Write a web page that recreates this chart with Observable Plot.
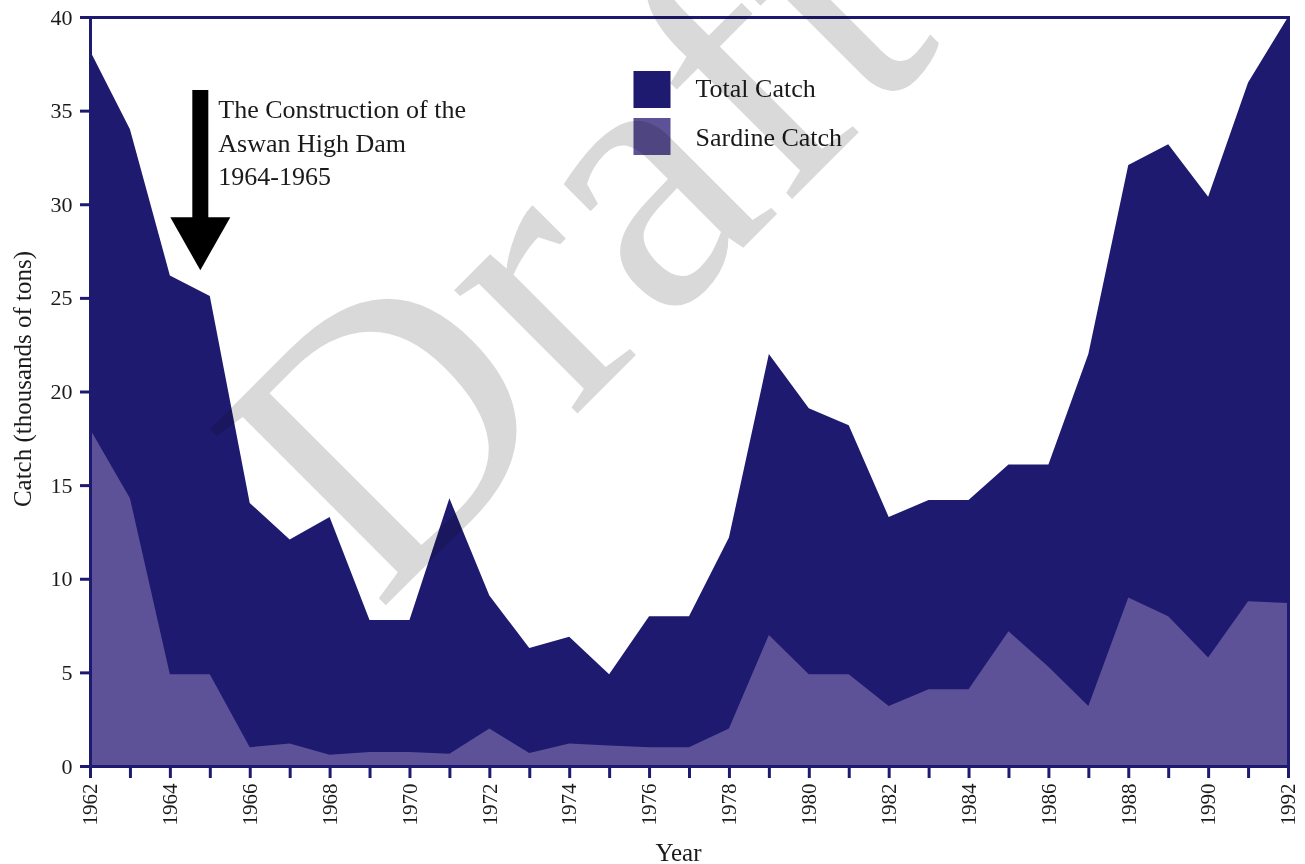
<!DOCTYPE html>
<html>
<head>
<meta charset="utf-8">
<script src="https://cdn.jsdelivr.net/npm/d3@7"></script>
<script src="https://cdn.jsdelivr.net/npm/@observablehq/plot@0.6"></script>
<style>
  body { margin: 0; background: #fff; }
  svg { display: block; }
</style>
</head>
<body>
<div id="chart"></div>
<script>
// ---- data ----
const years = [1962,1963,1964,1965,1966,1967,1968,1969,1970,1971,1972,1973,1974,1975,1976,1977,1978,1979,1980,1981,1982,1983,1984,1985,1986,1987,1988,1989,1990,1991,1992];
const totalCatch = [38.2,34.0,26.2,25.1,14.05,12.1,13.3,7.8,7.8,14.3,9.1,6.3,6.9,4.9,8.0,8.0,12.2,22.0,19.1,18.2,13.3,14.2,14.2,16.1,16.1,22.0,32.1,33.2,30.4,36.5,40.0];
const sardineCatch = [18.0,14.3,4.9,4.9,1.0,1.2,0.6,0.75,0.75,0.65,2.0,0.7,1.2,1.1,1.0,1.0,2.0,7.0,4.9,4.9,3.2,4.1,4.1,7.2,5.3,3.2,9.0,8.0,5.8,8.8,8.7];
const yTicks = [0,5,10,15,20,25,30,35,40];
const xLabelYears = [1962,1964,1966,1968,1970,1972,1974,1976,1978,1980,1982,1984,1986,1988,1990,1992];
const seriesNames = ["Total Catch","Sardine Catch"];
const annotationLines = ["The Construction of the","Aswan High Dam","1964-1965"];
const arrowYear = 1964.75, arrowFrom = 36.1, arrowTo = 26.5;
const yTitle = "Catch (thousands of tons)";
const xTitle = "Year";
const watermark = "Draft";

// ---- styles ----
const navy = "#1e1a70", purple = "#5d5298";
const seriesColors = [navy, purple];
const serif = "'Liberation Serif','Times New Roman',serif";
const ink = "#1a1a1a";

const data = years.map((year, i) => ({year, total: totalCatch[i], sardine: sardineCatch[i]}));

const downTriangle = {
  draw(ctx, size) {
    const r = Math.sqrt(size / Math.PI);
    const w = r, h = r * 1.77;
    ctx.moveTo(-w, -h); ctx.lineTo(w, -h); ctx.lineTo(0, 0); ctx.closePath();
  }
};

const chart = Plot.plot({
  width: 1305,
  height: 864,
  marginTop: 17,
  marginRight: 17,
  marginBottom: 98,
  marginLeft: 90,
  style: {background: "#fff", overflow: "visible"},
  x: {domain: [1962, 1992]},
  y: {domain: [0, 40]},
  marks: [
    Plot.areaY(data, {x: "year", y: "total", fill: navy}),
    Plot.areaY(data, {x: "year", y: "sardine", fill: purple}),
    Plot.frame({stroke: navy, strokeWidth: 3}),
    Plot.axisY({ticks: yTicks, tickSize: 10, tickPadding: 8, stroke: navy, strokeWidth: 3,
      fill: ink, fontSize: 22, fontFamily: serif, tickFormat: d => String(d), label: null}),
    Plot.axisX({ticks: years, tickSize: 12, stroke: navy, strokeWidth: 3, tickFormat: () => "", label: null}),
    Plot.text(xLabelYears, {x: d => d, text: d => String(d), frameAnchor: "bottom", dy: 17, rotate: -90,
      textAnchor: "end", lineAnchor: "middle", fontSize: 21, fontFamily: serif, fill: ink}),
    Plot.text([yTitle], {text: d => d, frameAnchor: "left", dx: -68, dy: -13, rotate: -90,
      textAnchor: "middle", lineAnchor: "middle", fontSize: 25, fontFamily: serif, fill: ink}),
    Plot.text([xTitle], {text: d => d, frameAnchor: "bottom", dx: -11, dy: 86,
      textAnchor: "middle", lineAnchor: "middle", fontSize: 25, fontFamily: serif, fill: ink}),
    // annotation arrow
    Plot.ruleX([arrowYear], {x: d => d, y1: () => arrowFrom, y2: () => arrowTo, stroke: "black", strokeWidth: 16, insetBottom: 30}),
    Plot.dot([arrowYear], {x: d => d, y: () => arrowTo, symbol: downTriangle, r: 30, fill: "black", stroke: "none"}),
    Plot.text([annotationLines.join("\n")], {x: () => arrowYear, y: () => arrowFrom, dx: 18, dy: 4,
      textAnchor: "start", lineAnchor: "top", lineHeight: 1.29, fontSize: 26, fontFamily: serif, fill: ink}),
    // legend
    ...seriesNames.flatMap((name, i) => [
      Plot.dot([name], {frameAnchor: "top-left", dx: 561.5, dy: 72 + i * 47, symbol: "square", r: 20.9, fill: seriesColors[i], stroke: "none"}),
      Plot.text([name], {text: d => d, frameAnchor: "top-left", dx: 605, dy: 71 + i * 49, textAnchor: "start",
        lineAnchor: "middle", fontSize: 26, fontFamily: serif, fill: ink})
    ]),
    // watermark
    Plot.text([watermark], {text: d => d, frameAnchor: "top-left", dx: 485, dy: 226, rotate: -45,
      textAnchor: "middle", lineAnchor: "middle", fontSize: 380, fontFamily: serif, fill: "#d9d9d9", mixBlendMode: "multiply"})
  ]
});
document.getElementById("chart").append(chart);
</script>
</body>
</html>
